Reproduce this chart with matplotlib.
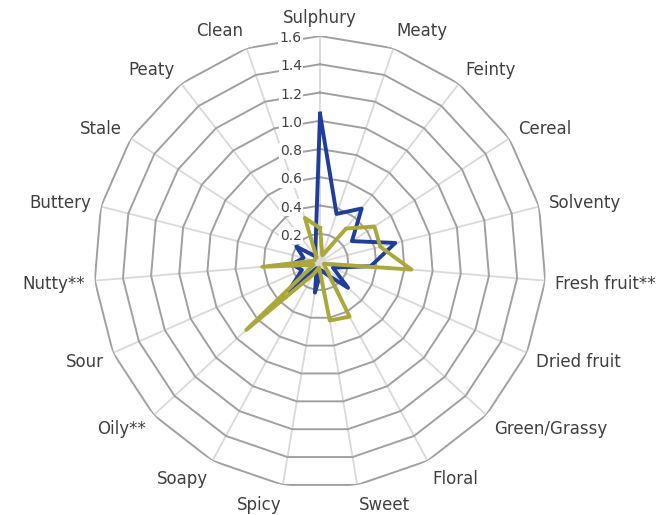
import numpy as np
import matplotlib
matplotlib.use("Agg")
import matplotlib.pyplot as plt

plt.rcParams['font.family'] = ['DejaVu Sans']

categories = ["Sulphury", "Meaty", "Feinty", "Cereal", "Solventy", "Fresh fruit**",
              "Dried fruit", "Green/Grassy", "Floral", "Sweet", "Spicy", "Soapy",
              "Oily**", "Sour", "Nutty**", "Buttery", "Stale", "Peaty", "Clean"]
series_blue = [1.05, 0.36, 0.48, 0.27, 0.55, 0.36, 0.10, 0.27, 0.10, 0.06,
               0.22, 0.05, 0.30, 0.14, 0.20, 0.12, 0.20, 0.05, 0.10]
series_olive = [0.24, 0.05, 0.30, 0.46, 0.44, 0.65, 0.03, 0.05, 0.44, 0.42,
                0.04, 0.10, 0.71, 0.05, 0.41, 0.04, 0.04, 0.04, 0.33]
ring_values = [0.2, 0.4, 0.6, 0.8, 1.0, 1.2, 1.4, 1.6]

n = len(categories)
theta = np.arange(n) * 2 * np.pi / n
theta_c = np.append(theta, theta[0])
rmax = ring_values[-1]

fig = plt.figure(figsize=(6.64, 5.15), dpi=100)
ax = fig.add_axes([0.1416, 0.0524, 0.6807, 0.8777], projection='polar')
ax.set_theta_zero_location('N')
ax.set_theta_direction(-1)
ax.set_ylim(0, rmax)
ax.grid(False)
ax.spines['polar'].set_visible(False)
ax.set_xticks([])
ax.set_yticks([])
ax.patch.set_visible(False)

# spokes
for t in theta:
    ax.plot([t, t], [0, rmax], color='#D9D9D9', lw=1.3, zorder=1)

# polygon rings
for v in ring_values:
    ax.plot(theta_c, [v] * (n + 1), color='#A0A0A0', lw=1.4, zorder=2)

# radial tick labels
for v in ring_values:
    ax.annotate(f"{v:.1f}", xy=(0, v), xytext=(-13, -1.5), textcoords='offset points',
                ha='right', va='center', fontsize=10, color='#404040', zorder=4,
                bbox=dict(boxstyle='square,pad=0.1', fc='white', ec='none'))

# data
ax.plot(theta_c, series_blue + series_blue[:1], color='#1F3E9A', lw=2.8, zorder=5)
ax.plot(theta_c, series_olive + series_olive[:1], color='#ACA73B', lw=2.8, zorder=6)

# category labels
r_lab = rmax * 1.045
for t, name in zip(theta, categories):
    s, c = np.sin(t), np.cos(t)
    if abs(s) < 0.01:
        ha = 'center'
    elif s > 0:
        ha = 'left'
    else:
        ha = 'right'
    ax.annotate(name, xy=(t, r_lab), xytext=(0, c * 6.5 - 1), textcoords='offset points',
                ha=ha, va='center', fontsize=12, color='#404040',
                annotation_clip=False)

plt.savefig('out.png', dpi=100)
